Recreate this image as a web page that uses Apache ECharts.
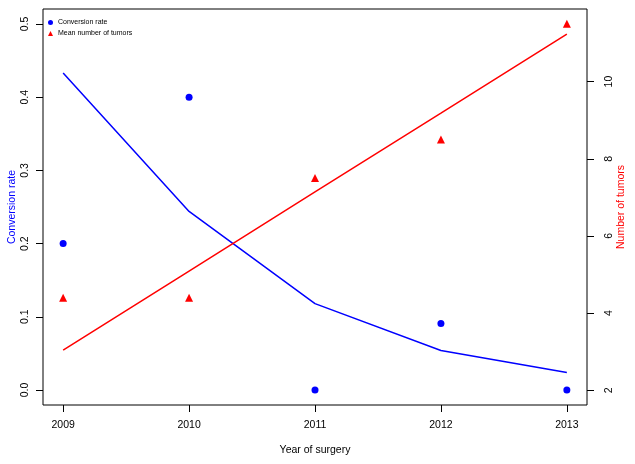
<!DOCTYPE html>
<html>
<head>
<meta charset="utf-8">
<script src="https://cdn.jsdelivr.net/npm/echarts@6/dist/echarts.min.js"></script>
<style>
  html, body { margin: 0; padding: 0; background: #fff; }
  #chart { width: 635px; height: 464px; }
</style>
</head>
<body>
<div id="chart"></div>
<script>
var years = [2009, 2010, 2011, 2012, 2013];
var conversionRate = [0.2, 0.4, 0.0, 0.0909, 0.0];
var conversionFit = [0.433, 0.244, 0.118, 0.054, 0.024];
var meanTumors = [4.4, 4.4, 7.5, 8.5, 11.5];
var tumorFit = [3.04, 5.09, 7.14, 9.18, 11.23];
var leftTicks = [0, 0.1, 0.2, 0.3, 0.4, 0.5];
var rightTicks = [2, 4, 6, 8, 10];

var FONT = 'Liberation Sans, Arial, Helvetica, sans-serif';
var BLUE = '#0000ff';
var RED = '#ff0000';

function pairs(xs, ys) {
  return xs.map(function (x, i) { return [x, ys[i]]; });
}

var chart = echarts.init(document.getElementById('chart'), null, { renderer: 'canvas' });

function ticks(vals) {
  return { show: true, inside: false, length: 7, customValues: vals, lineStyle: { color: '#000', width: 1 } };
}

var option = {
  animation: false,
  backgroundColor: '#fff',
  textStyle: { fontFamily: FONT },
  grid: {
    show: true, left: 43, right: 48, top: 9, bottom: 59,
    borderColor: '#000', borderWidth: 1,
    containLabel: false, outerBoundsMode: 'none'
  },
  legend: {
    orient: 'vertical', left: 43, top: 14,
    itemWidth: 5, itemHeight: 5, itemGap: 4,
    data: [
      { name: 'Conversion rate', icon: 'circle' },
      { name: 'Mean number of tumors', icon: 'triangle' }
    ],
    textStyle: { fontSize: 7, color: '#000', fontFamily: FONT }
  },
  xAxis: {
    type: 'value', min: 2008.84, max: 2013.16,
    name: 'Year of surgery', nameLocation: 'middle', nameGap: 40, nameMoveOverlap: false,
    nameTextStyle: { fontSize: 10.5, color: '#000', fontFamily: FONT },
    axisLine: { show: false, onZero: false },
    axisTick: ticks(years),
    axisLabel: {
      customValues: years, margin: 15, fontSize: 10.5, color: '#000', fontFamily: FONT,
      formatter: function (v) { return String(v); }
    },
    splitLine: { show: false }
  },
  yAxis: [
    {
      type: 'value', position: 'left', min: -0.0205, max: 0.5205,
      name: 'Conversion rate', nameLocation: 'middle', nameGap: 25, nameMoveOverlap: false,
      nameTextStyle: { fontSize: 10.5, color: BLUE, fontFamily: FONT },
      axisLine: { show: false, onZero: false },
      axisTick: ticks(leftTicks),
      axisLabel: {
        customValues: leftTicks, rotate: 90, margin: 12, fontSize: 10.5, color: '#000', fontFamily: FONT,
        formatter: function (v) { return v.toFixed(1); }
      },
      splitLine: { show: false }
    },
    {
      type: 'value', position: 'right', min: 1.62, max: 11.88,
      name: 'Number of tumors', nameLocation: 'middle', nameGap: 29, nameMoveOverlap: false,
      nameTextStyle: { fontSize: 10.5, color: RED, fontFamily: FONT },
      axisLine: { show: false, onZero: false },
      axisTick: ticks(rightTicks),
      axisLabel: {
        customValues: rightTicks, rotate: 90, margin: 17, fontSize: 10.5, color: '#000', fontFamily: FONT,
        formatter: function (v) { return String(v); }
      },
      splitLine: { show: false }
    }
  ],
  series: [
    {
      name: 'Conversion rate', type: 'scatter', yAxisIndex: 0,
      symbol: 'circle', symbolSize: 7,
      itemStyle: { color: BLUE, opacity: 1 },
      data: pairs(years, conversionRate), z: 3
    },
    {
      name: 'Mean number of tumors', type: 'scatter', yAxisIndex: 1,
      symbol: 'triangle', symbolSize: 8,
      itemStyle: { color: RED, opacity: 1 },
      data: pairs(years, meanTumors), z: 3
    },
    {
      name: 'Conversion fit', type: 'line', yAxisIndex: 0,
      showSymbol: false, symbol: 'none',
      lineStyle: { color: BLUE, width: 1.5 },
      data: pairs(years, conversionFit), z: 2
    },
    {
      name: 'Tumor fit', type: 'line', yAxisIndex: 1,
      showSymbol: false, symbol: 'none',
      lineStyle: { color: RED, width: 1.5 },
      data: pairs(years, tumorFit), z: 2
    }
  ]
};

chart.setOption(option);
</script>
</body>
</html>
